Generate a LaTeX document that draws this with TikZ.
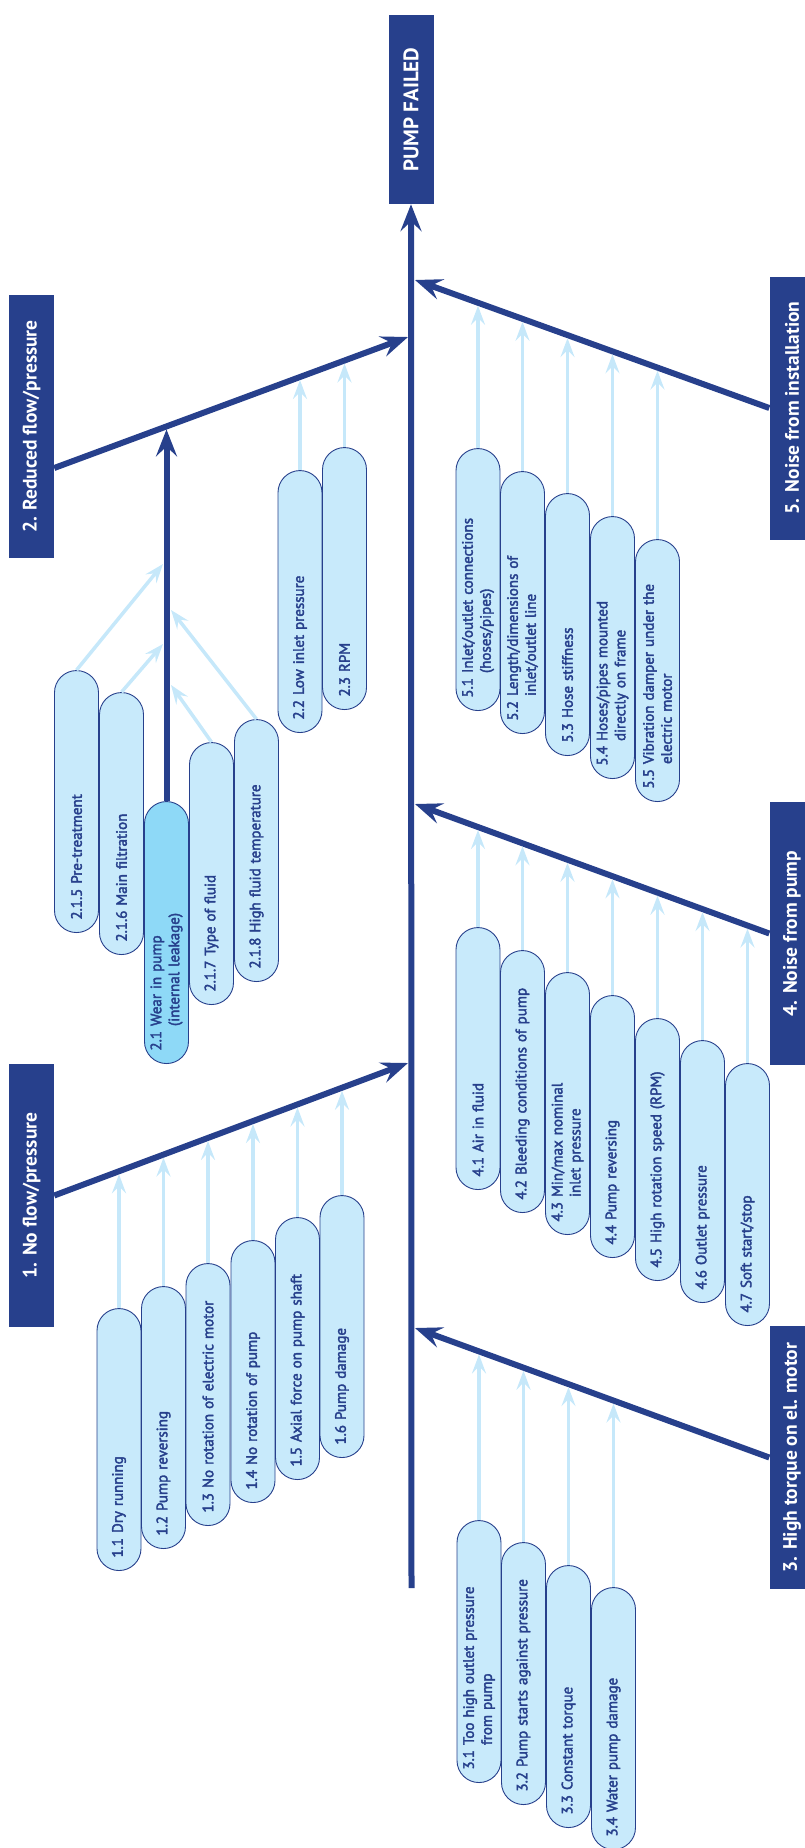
\documentclass[tikz,border=0pt]{standalone}
\usepackage{fontspec}
\setmainfont{PT Sans}
\newfontfamily\causefont{PT Sans}[FakeBold=2.5]
\usetikzlibrary{arrows.meta,calc,intersections}

\definecolor{pumpblue}{RGB}{39,64,140}
\definecolor{causefill}{RGB}{200,234,251}
\definecolor{wearfill}{RGB}{142,217,247}
\definecolor{feedline}{RGB}{198,232,250}

\begin{document}
\begin{tikzpicture}[x=1pt, y=-1pt,
    head/.style = {rectangle, fill=pumpblue, text=white, rotate=90,
      minimum width=263pt, minimum height=45pt, inner sep=0pt,
      font=\fontsize{19.5}{22}\selectfont\bfseries},
    cause/.style = {rectangle, rounded corners=22pt, draw=pumpblue,
      line width=0.9pt, fill=causefill, text=pumpblue, rotate=90,
      minimum width=262pt, minimum height=44pt, text width=236pt,
      align=left, inner xsep=13pt, inner ysep=0pt, anchor=west,
      font=\causefont\fontsize{15}{18}\selectfont},
    bone/.style = {draw=pumpblue, line width=6pt,
      -{Stealth[length=27pt,width=21pt,inset=10pt]}},
    feed/.style = {draw=feedline, line width=3.5pt,
      -{Stealth[length=19pt,width=14pt,inset=7pt]}},
  ]
  \useasboundingbox (0,0) rectangle (805,1848);

  % heads
  \node[head, minimum width=189pt, font=\fontsize{21}{24}\selectfont\bfseries]
    (fail) at (411,109.5) {PUMP FAILED};
  \node[head] (c2) at (31.5,426.5) {2. Reduced flow/pressure};
  \node[head] (c1) at (31.5,1195.5) {1. No flow/pressure};
  \node[head] (c5) at (792,408) {5. Noise from installation};
  \node[head] (c4) at (792,933.5) {4. Noise from pump};
  \node[head] (c3) at (792,1457.5) {3. High torque on el. motor};

  % spine and bones
  \coordinate (base) at (411.5,1588);
  \coordinate (j5) at (415,280);
  \coordinate (j2) at (408,337);
  \coordinate (j4) at (415,804);
  \coordinate (j1) at (408,1063);
  \coordinate (j3) at (415,1328);
  \draw[bone] (base) -- (fail.west);
  \draw[bone, name path=b2] ($(c2.south)+(0,41.5)$) -- (j2);
  \draw[bone, name path=b1] (c1.south) -- (j1);
  \draw[bone, name path=b5] (c5.north) -- (j5);
  \draw[bone, name path=b4] (c4.north) -- (j4);
  \draw[bone, name path=b3] (c3.north) -- (j3);

  % 2. reduced flow
  \node[cause] (n215) at (76.5,933) {2.1.5 Pre-treatment};
  \node[cause] (n216) at (121.5,955) {2.1.6 Main filtration};
  \node[cause, fill=wearfill] (n21) at (166.5,1064)
    {2.1 Wear in pump\\\hphantom{2.1 }(internal leakage)};
  \node[cause] (n217) at (211.5,1005) {2.1.7 Type of fluid};
  \node[cause] (n218) at (256.5,982) {2.1.8 High fluid temperature};
  \node[cause] (n22) at (300,733) {2.2 Low inlet pressure};
  \node[cause] (n23) at (344.5,710) {2.3 RPM};

  \path[name path=up] (n21.east) -- +(0,-500);
  \draw[bone, shorten >=3pt, name intersections={of=up and b2}]
    (n21.east) -- (intersection-1);
  \coordinate (w5) at (163,564);
  \coordinate (w6) at (163,644);
  \coordinate (w8) at (171,610);
  \coordinate (w7) at (171,685);
  \draw[feed] (n215.east) -- (w5);
  \draw[feed] (n216.east) -- (w6);
  \draw[feed] (n218.east) -- (w8);
  \draw[feed] (n217.east) -- (w7);

  % 5. noise from installation
  \node[cause] (n51) at (478,711)
    {5.1 Inlet/outlet connections\\\hphantom{5.1 }(hoses/pipes)};
  \node[cause] (n52) at (522.5,734)
    {5.2 Length/dimensions of\\\hphantom{5.2 }inlet/outlet line};
  \node[cause] (n53) at (567.5,756) {5.3 Hose stiffness};
  \node[cause] (n54) at (612.5,779)
    {5.4 Hoses/pipes mounted\\\hphantom{5.4 }directly on frame};
  \node[cause] (n55) at (657.5,802)
    {5.5 Vibration damper under the\\\hphantom{5.5 }electric motor};

  % 4. noise from pump
  \node[cause] (n41) at (478,1190) {4.1 Air in fluid};
  \node[cause] (n42) at (522.5,1213) {4.2 Bleeding conditions of pump};
  \node[cause] (n43) at (567.5,1235)
    {4.3 Min/max nominal\\\hphantom{4.3 }inlet pressure};
  \node[cause] (n44) at (612.5,1258) {4.4 Pump reversing};
  \node[cause] (n45) at (657.5,1281) {4.5 High rotation speed (RPM)};
  \node[cause] (n46) at (702.5,1303) {4.6 Outlet pressure};
  \node[cause] (n47) at (747.5,1326) {4.7 Soft start/stop};

  % 1. no flow
  \node[cause] (n11) at (119,1571) {1.1 Dry running};
  \node[cause] (n12) at (163.5,1549) {1.2 Pump reversing};
  \node[cause] (n13) at (208,1526) {1.3 No rotation of electric motor};
  \node[cause] (n14) at (253,1503) {1.4 No rotation of pump};
  \node[cause] (n15) at (297.5,1480) {1.5 Axial force on pump shaft};
  \node[cause] (n16) at (342,1458) {1.6 Pump damage};

  % 3. high torque
  \node[cause] (n31) at (479,1783)
    {3.1 Too high outlet pressure\\\hphantom{3.1 }from pump};
  \node[cause] (n32) at (523.5,1805) {3.2 Pump starts against pressure};
  \node[cause] (n33) at (568.5,1828) {3.3 Constant torque};
  \node[cause] (n34) at (613.5,1850) {3.4 Water pump damage};

  % feeds onto the bones
  \foreach \n/\b in {n22/b2,n23/b2,n51/b5,n52/b5,n53/b5,n54/b5,n55/b5,
      n41/b4,n42/b4,n43/b4,n44/b4,n45/b4,n46/b4,n47/b4,
      n11/b1,n12/b1,n13/b1,n14/b1,n15/b1,n16/b1,
      n31/b3,n32/b3,n33/b3,n34/b3}{
    \path[name path=up] (\n.east) -- +(0,-300);
    \draw[feed, shorten >=3pt, name intersections={of=up and \b}]
      (\n.east) -- (intersection-1);
  }
\end{tikzpicture}
\end{document}
